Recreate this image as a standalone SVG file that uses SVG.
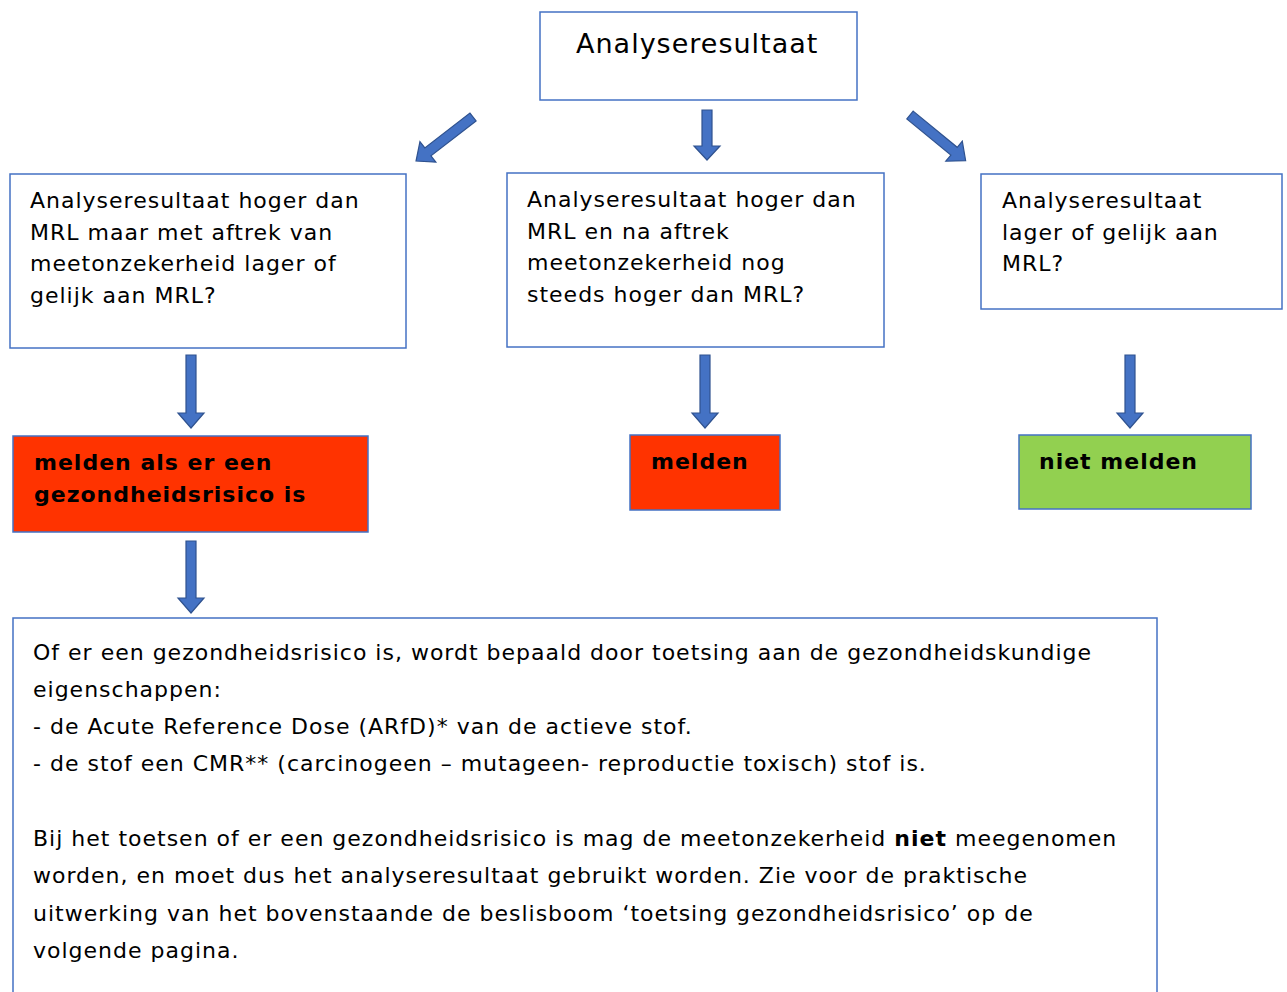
<svg xmlns="http://www.w3.org/2000/svg" width="1287" height="992" viewBox="0 0 1287 992">
<style>
.box{fill:#fff;stroke:#4472C4;stroke-width:1.5}
.red{fill:#FF3300;stroke:#4472C4;stroke-width:1.5}
.green{fill:#92D050;stroke:#4472C4;stroke-width:1.5}
.t{font-family:"DejaVu Sans",Verdana,sans-serif;font-size:22px;fill:#000;letter-spacing:1px}
.b{font-weight:bold}
.arr{fill:#4472C4;stroke:#2F528F;stroke-width:1.2}
</style>
<rect width="1287" height="992" fill="#fff"/>
<g id="n-top">
<rect class="box" x="540" y="12" width="317" height="88"/>
<text class="t" x="576" y="53" style="font-size:27px">Analyseresultaat</text>
</g>
<g id="n-left">
<rect class="box" x="10" y="174" width="396" height="174"/>
<text class="t" x="30" y="208">Analyseresultaat hoger dan</text>
<text class="t" x="30" y="240">MRL maar met aftrek van</text>
<text class="t" x="30" y="271">meetonzekerheid lager of</text>
<text class="t" x="30" y="303">gelijk aan MRL?</text>
</g>
<g id="n-mid">
<rect class="box" x="507" y="173" width="377" height="174"/>
<text class="t" x="527" y="207">Analyseresultaat hoger dan</text>
<text class="t" x="527" y="239">MRL en na aftrek</text>
<text class="t" x="527" y="270">meetonzekerheid nog</text>
<text class="t" x="527" y="302">steeds hoger dan MRL?</text>
</g>
<g id="n-right">
<rect class="box" x="981" y="174" width="301" height="135"/>
<text class="t" x="1002" y="208">Analyseresultaat</text>
<text class="t" x="1002" y="240">lager of gelijk aan</text>
<text class="t" x="1002" y="271">MRL?</text>
</g>
<g id="n-melden-risico">
<rect class="red" x="13" y="436" width="355" height="96"/>
<text class="t b" x="34" y="470">melden als er een</text>
<text class="t b" x="34" y="502">gezondheidsrisico is</text>
</g>
<g id="n-melden">
<rect class="red" x="630" y="435" width="150" height="75"/>
<text class="t b" x="651" y="469">melden</text>
</g>
<g id="n-niet-melden">
<rect class="green" x="1019" y="435" width="232" height="74"/>
<text class="t b" x="1039" y="469">niet melden</text>
</g>
<g id="n-note">
<rect class="box" x="13" y="618" width="1144" height="390"/>
<text class="t" x="33" y="660">Of er een gezondheidsrisico is, wordt bepaald door toetsing aan de gezondheidskundige</text>
<text class="t" x="33" y="697">eigenschappen:</text>
<text class="t" x="33" y="734">- de Acute Reference Dose (ARfD)* van de actieve stof.</text>
<text class="t" x="33" y="771">- de stof een CMR** (carcinogeen – mutageen- reproductie toxisch) stof is.</text>
<text class="t" x="33" y="846">Bij het toetsen of er een gezondheidsrisico is mag de meetonzekerheid <tspan class="b">niet</tspan> meegenomen</text>
<text class="t" x="33" y="883">worden, en moet dus het analyseresultaat gebruikt worden. Zie voor de praktische</text>
<text class="t" x="33" y="921">uitwerking van het bovenstaande de beslisboom ‘toetsing gezondheidsrisico’ op de</text>
<text class="t" x="33" y="958">volgende pagina.</text>
</g>
<g id="connectors">
<path class="arr" d="M702,110 H712 V146 H720 L707,160 L694,146 H702 Z"/>
<path class="arr" d="M186,355 H196 V413 H204 L191,428 L178,413 H186 Z"/>
<path class="arr" d="M700,355 H710 V413 H718 L705,428 L692,413 H700 Z"/>
<path class="arr" d="M1125,355 H1135 V413 H1143 L1130,428 L1117,413 H1125 Z"/>
<path class="arr" d="M186,541 H196 V598 H204 L191,613 L178,598 H186 Z"/>
<path class="arr" transform="translate(473,117) rotate(142.3)" d="M0,-5 H57 V-13 L72,0 L57,13 V5 H0 Z"/>
<path class="arr" transform="translate(910,115) rotate(39.4)" d="M0,-5 H57 V-13 L72,0 L57,13 V5 H0 Z"/>
</g>
</svg>
